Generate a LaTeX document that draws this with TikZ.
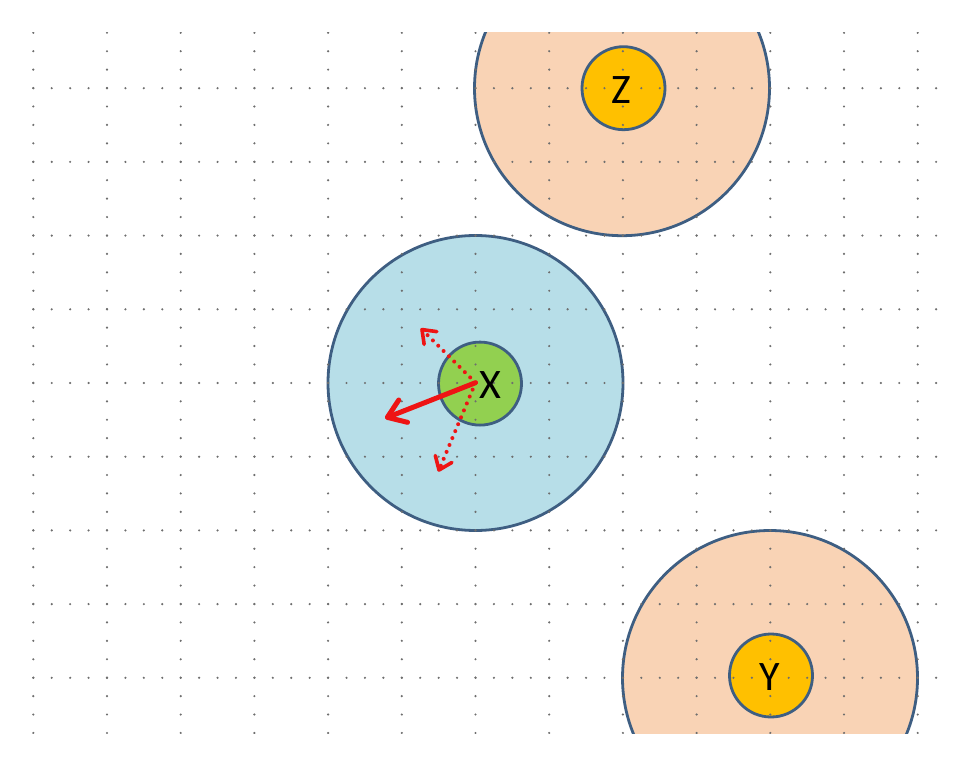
\documentclass[tikz,border=0pt]{standalone}
\usepackage{fontspec}
\setmainfont{Carlito}
\usetikzlibrary{arrows.meta}
\definecolor{peach}{RGB}{249,211,181}
\definecolor{lblue}{RGB}{183,222,232}
\definecolor{lgreen}{RGB}{146,208,80}
\definecolor{gold}{RGB}{255,192,0}
\definecolor{edge}{RGB}{62,94,130}
\definecolor{dotgray}{RGB}{110,110,110}
\definecolor{arrred}{RGB}{238,20,20}
\tikzset{
  outerc/.style={circle, draw=edge, line width=2.8pt, minimum size=295pt, inner sep=0pt},
  innerc/.style={circle, draw=edge, line width=2.8pt, minimum size=83pt, inner sep=0pt},
  lbl/.style={font=\fontsize{42}{42}\selectfont, text=black, inner sep=0pt},
  griddot/.style={fill=dotgray},
  solidarr/.style={arrred, line width=5pt, line cap=round, -{Straight Barb[length=17pt,width=24pt,round]}},
  dotarr/.style={arrred, line width=4pt, line cap=round, dash pattern=on 0pt off 7.5pt, -{Straight Barb[length=12pt,width=18pt,round,line width=3.6pt]}}
}
\begin{document}
\begin{tikzpicture}[x=1pt,y=-1pt]
\useasboundingbox (0,0) rectangle (963,767);
\begin{scope}
\clip (0,32.7) rectangle (963,733.5);
% big circles
\node[outerc, fill=peach] (Zo) at (622,88.2) {};
\node[outerc, fill=lblue] (Xo) at (475.5,383) {};
\node[outerc, fill=peach] (Yo) at (770,678) {};
% small circles
\node[innerc, fill=gold] (Zi) at (623.5,88.2) {};
\node[innerc, fill=lgreen] (Xi) at (480,383.6) {};
\node[innerc, fill=gold] (Yi) at (771,675.5) {};
% grid dots
\foreach \r in {0,...,8} {
  \foreach \j in {0,...,49} {
    \fill[griddot] ({33.3+18.425*\j},{88.2+73.7*\r}) circle (1.2pt);
  }
}
\foreach \c in {0,...,12} {
  \foreach \j in {0,...,38} {
    \fill[griddot] ({33.3+73.7*\c},{32.8+18.425*\j}) circle (1.2pt);
  }
}
\end{scope}
% labels
\node[lbl] (Zl) at (621.7,90) {Z};
\node[lbl] (Xl) at (490,385) {X};
\node[lbl] (Yl) at (769.5,677) {Y};
% arrows
\coordinate (O) at (475.5,382.7);
\coordinate (A) at (385,418.3);
\coordinate (B) at (420.7,328.3);
\coordinate (C) at (438.3,471.7);
\draw[dotarr] (O) -- (B);
\draw[dotarr] (O) -- (C);
\draw[solidarr] (O) -- (A);
\end{tikzpicture}
\end{document}
